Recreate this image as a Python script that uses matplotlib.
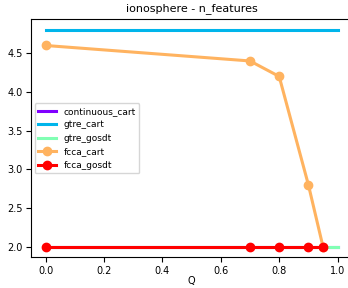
import numpy as np
import matplotlib
matplotlib.use("Agg")
import matplotlib.pyplot as plt

# values
q_full = [0.0, 1.0]
continuous_cart = [2.0, 2.0]
gtre_cart = [4.8, 4.8]
gtre_gosdt = [2.0, 2.0]
q_fcca = [0.0, 0.7, 0.8, 0.9, 0.95]
fcca_cart = [4.6, 4.4, 4.2, 2.8, 2.0]
fcca_gosdt = [2.0, 2.0, 2.0, 2.0, 2.0]

colors = plt.cm.rainbow(np.linspace(0, 1, 5))

fig = plt.figure(figsize=(3.48, 2.88), dpi=100)
ax = fig.add_axes([0.089, 0.106, 0.923, 0.8274])

lw = 2.2
ax.plot(q_full, continuous_cart, color=colors[0], lw=lw, label="continuous_cart")
ax.plot(q_full, gtre_cart, color=colors[1], lw=lw, label="gtre_cart")
ax.plot(q_full, gtre_gosdt, color=colors[2], lw=lw, label="gtre_gosdt")
ax.plot(q_fcca, fcca_cart, color=colors[3], lw=lw, marker="o", ms=6, label="fcca_cart")
ax.plot(q_fcca, fcca_gosdt, color=colors[4], lw=lw, marker="o", ms=6, label="fcca_gosdt")

ax.set_title("ionosphere - n_features", fontsize=8)
ax.set_xlabel("Q", fontsize=7, labelpad=0)
ax.tick_params(labelsize=7, pad=2.5)
ax.legend(loc="center left", fontsize=6.5, borderaxespad=0.4)

fig.savefig("out.png", dpi=100)
